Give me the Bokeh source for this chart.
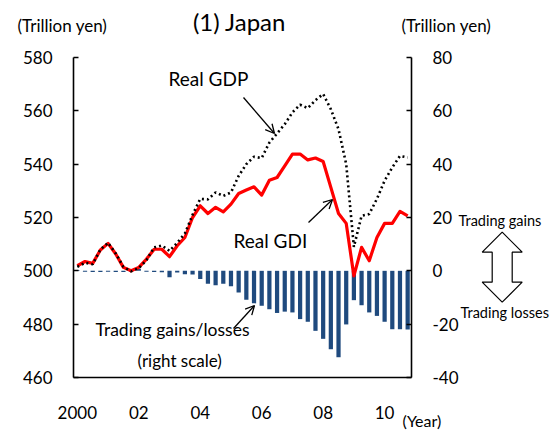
from bokeh.plotting import figure
from bokeh.models import (ColumnDataSource, Range1d, LinearAxis, FixedTicker, Label,
                          Arrow, OpenHead, PolyAnnotation)
from bokeh.embed import file_html
from bokeh.resources import INLINE

# ---------------- data (quarterly, 2000Q1 - 2010Q4) ----------------
years = list(range(2000, 2011))
quarters = [f"{y}Q{q}" for y in years for q in (1, 2, 3, 4)]

real_gdp = [501.5, 503.0, 502.5, 508.0, 510.5, 506.5, 501.5, 499.8, 501.0, 504.0,
            508.8, 509.5, 507.5, 510.5, 514.0, 521.0, 527.0, 526.8, 529.4, 528.1,
            529.4, 535.6, 540.0, 542.8, 542.3, 548.1, 551.5, 555.0, 559.4, 562.3,
            561.0, 564.0, 566.3, 560.6, 553.1, 540.0, 509.0, 520.6, 521.3, 527.0,
            533.8, 538.8, 543.1, 542.5]

real_gdi = [501.9, 503.5, 502.8, 507.8, 510.3, 506.3, 501.3, 500.0, 501.3, 504.4,
            508.1, 508.1, 505.3, 509.4, 512.5, 520.0, 524.4, 521.5, 523.8, 522.1,
            525.0, 529.0, 530.3, 531.5, 528.4, 534.0, 535.0, 539.4, 543.8, 543.8,
            541.6, 542.3, 541.0, 531.3, 521.5, 517.8, 498.1, 508.8, 503.8, 512.5,
            517.8, 517.8, 522.3, 520.6]

trading_gains = [0.3, -0.3, -0.4, -0.4, -0.3, -0.4, -0.4, -0.3, 0.8, -0.3,
                 -0.4, -0.5, -2.4, -0.6, -1.3, -1.4, -3.1, -4.8, -5.4, -4.8,
                 -5.8, -8.1, -10.8, -12.2, -13.1, -14.4, -15.8, -15.3, -15.6, -18.1,
                 -19.1, -22.5, -25.5, -29.4, -32.4, -20.1, -11.0, -12.9, -15.6, -16.9,
                 -19.1, -21.9, -21.9, -22.0]

left_ticks = [460, 480, 500, 520, 540, 560, 580]
right_ticks = [-40, -20, 0, 20, 40, 60, 80]
right_tick_labels = ["-40", "-20", "0", "20", "40", "60", "80"]
x_tick_quarters = ["2000Q1", "2002Q1", "2004Q1", "2006Q1", "2008Q1", "2010Q1"]
x_tick_labels = ["2000", "02", "04", "06", "08", "10"]

# ---------------- layout geometry ----------------
FONT = "Lato"
n = len(quarters)
idx = list(range(n))
W, H = 552, 432
FL, FT, FW, FH = 73, 57, 338, 320      # plot box (axes) position in the page
L_MIN, L_MAX = left_ticks[0], left_ticks[-1]
R_MIN, R_MAX = right_ticks[0], right_ticks[-1]
OFFSET = L_MIN - R_MIN                 # left value = right value + OFFSET

def dx(px):
    return (px - FL) / (FW / n) - 0.5
def dy(py):
    return L_MAX - (py - FT) * (L_MAX - L_MIN) / FH

src = ColumnDataSource(dict(x=idx, gdp=real_gdp, gdi=real_gdi, tg=trading_gains))

p = figure(frame_width=W, frame_height=H,
           x_range=Range1d(dx(0), dx(W)), y_range=Range1d(dy(H), dy(0)),
           output_backend="svg", toolbar_location=None,
           min_border=0, min_border_left=0, min_border_right=0,
           min_border_top=0, min_border_bottom=0,
           background_fill_color="white", border_fill_color="white")
p.outline_line_color = None
p.grid.visible = False
p.extra_y_ranges = {"right": Range1d(dy(H) - OFFSET, dy(0) - OFFSET)}

# bars (right scale)
p.vbar(x="x", top="tg", bottom=0, width=0.55, source=src, y_range_name="right",
       fill_color="#1F4A7E", line_color=None)
# GDI red line
p.line(x="x", y="gdi", source=src, line_color="#FF0000", line_width=3.2, line_join="round")
# GDP dotted line
p.line(x="x", y="gdp", source=src, line_color="black", line_width=2.6, line_dash="2 3")

# axes (fixed at the plot-box edges)
yl = p.yaxis[0]
yl.ticker = FixedTicker(ticks=left_ticks)
yl.fixed_location = -0.5
yl.bounds = (L_MIN, L_MAX)
xa = p.xaxis[0]
xa.ticker = FixedTicker(ticks=[quarters.index(q) for q in x_tick_quarters])
xa.major_label_overrides = {quarters.index(q): lab for q, lab in zip(x_tick_quarters, x_tick_labels)}
xa.fixed_location = L_MIN
xa.bounds = (-0.5, n - 0.5)
yr = LinearAxis(y_range_name="right", ticker=FixedTicker(ticks=right_ticks),
                fixed_location=n - 0.5, bounds=(R_MIN, R_MAX))
yr.major_label_overrides = dict(zip(right_ticks, right_tick_labels))
p.add_layout(yr, "right")

for ax in (yl, yr, xa):
    ax.axis_line_color = "black"
    ax.axis_line_width = 1.6
    ax.major_tick_line_color = "black"
    ax.major_tick_line_width = 1.4
    ax.minor_tick_line_color = None
    ax.major_tick_out = 0
    ax.major_tick_in = 5
    ax.major_label_text_font = FONT
    ax.major_label_text_font_size = "17px"
    ax.major_label_text_color = "black"
    ax.major_label_standoff = 21
xa.major_tick_in = 0
xa.major_label_standoff = 28

# ---------------- annotations ----------------
def lab(text, px, py, size, align="left"):
    p.add_layout(Label(x=dx(px), y=dy(py), text=text, text_font=FONT,
                       text_font_size=f"{size}px", text_color="black",
                       text_align=align, text_baseline="middle"))

lab("(1) Japan", 239, 21, 24, "center")
lab("(Trillion yen)", 17, 25, 17)
lab("(Trillion yen)", 401, 25, 17)
lab("Real GDP", 168, 78, 19)
lab("Real GDI", 233, 240, 19)
lab("Trading gains/losses", 95, 329, 17.5)
lab("(right scale)", 137, 360, 17)
lab("Trading gains", 458, 220, 14.5)
lab("Trading losses", 460, 312, 14.5)
lab("(Year)", 402, 420, 16)

def arrow(x0, y0, x1, y1):
    p.add_layout(Arrow(x_start=dx(x0), y_start=dy(y0), x_end=dx(x1), y_end=dy(y1),
                       line_color="black", line_width=1.3,
                       end=OpenHead(size=9, line_color="black", line_width=1.3)))

arrow(243, 97, 274, 133)
arrow(308, 222, 332, 199)
arrow(233, 328, 254, 305)

# hollow double arrow on the right
pts = [(501.7, 231.7), (521.7, 251.7), (511.7, 251.7), (511.7, 281.7), (521.7, 281.7),
       (501.7, 301.7), (481.7, 281.7), (491.7, 281.7), (491.7, 251.7), (481.7, 251.7)]
p.add_layout(PolyAnnotation(xs=[dx(a) for a, b in pts], ys=[dy(b) for a, b in pts],
                            fill_color="white", fill_alpha=1.0,
                            line_color="black", line_alpha=1.0, line_width=1.2))

open("out.html", "w").write(file_html(p, INLINE))
